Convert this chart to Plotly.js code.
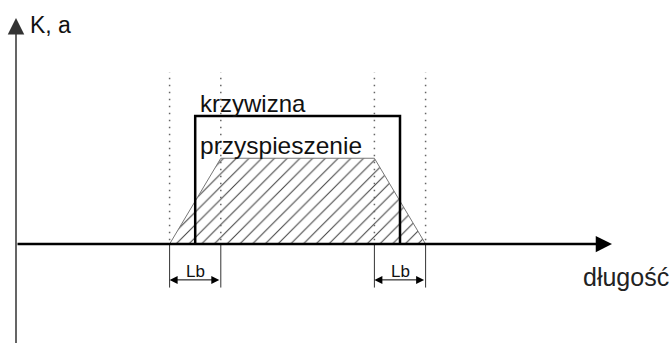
<!DOCTYPE html>
<html>
<head>
<meta charset="utf-8">
<script src="https://cdn.plot.ly/plotly-3.0.1.min.js"></script>
<style>
  body { margin: 0; background: #fff; }
  #chart { width: 672px; height: 343px; }
</style>
</head>
<body>
<div id="chart"></div>
<script>
// length along the track, in units of Lb
const curvatureX = [3.5, 3.5, 7.5, 7.5];
const curvatureY = [0, 1, 1, 0];
const accelX = [3, 4, 7, 8];
const accelY = [0, 0.67, 0.67, 0];
const guideX = [3, 4, 7, 8];
const lbSpans = [[3, 4], [7, 8]];
const lbLabel = 'Lb';
const curvatureLabel = 'krzywizna';
const accelLabel = 'przyspieszenie';
const yAxisLabel = 'K, a';
const xAxisLabel = 'długość';

const font = 'Liberation Sans, Arial, sans-serif';

const data = [
    {
        x: accelX, y: accelY,
        type: 'scatter', mode: 'lines',
        fill: 'toself',
        fillcolor: 'rgba(255,255,255,0)',
        fillpattern: { shape: '/', fgcolor: '#444', bgcolor: 'rgba(255,255,255,0)', size: 9, solidity: 0.12 },
        line: { color: '#777', width: 1 },
        hoverinfo: 'skip'
    },
    {
        x: curvatureX, y: curvatureY,
        type: 'scatter', mode: 'lines',
        line: { color: '#000', width: 2.5 },
        hoverinfo: 'skip'
    }
];

const shapes = [];
guideX.forEach(x => {
    shapes.push({
        type: 'line', xref: 'x', yref: 'y',
        x0: x, x1: x, y0: 0.03, y1: 1.344,
        line: { color: '#666', width: 1.5, dash: '1.5px,5.5px' }
    });
    shapes.push({
        type: 'line', xref: 'x', yref: 'y',
        x0: x, x1: x, y0: -0.005, y1: -0.34,
        line: { color: '#333', width: 1 }
    });
});

const annotations = [
    // horizontal axis
    { x: 11.64, y: 0, ax: 0, ay: 0, axref: 'x', ayref: 'y', text: '', showarrow: true,
      arrowhead: 2, arrowsize: 1.3, arrowwidth: 2.5, arrowcolor: '#000' },
    // vertical axis
    { x: 0, y: 1.766, ax: 0, ay: -0.8, axref: 'x', ayref: 'y', text: '', showarrow: true,
      arrowhead: 2, arrowsize: 2.2, arrowwidth: 1.5, arrowcolor: '#333' },
    { x: 0.24, y: 1.71, text: yAxisLabel, showarrow: false, xanchor: 'left', yanchor: 'middle',
      font: { family: font, size: 23, color: '#111' } },
    { x: 11.03, y: -0.255, text: xAxisLabel, showarrow: false, xanchor: 'left', yanchor: 'middle',
      font: { family: font, size: 25, color: '#222' } },
    { x: 3.55, y: 1.1, text: curvatureLabel, showarrow: false, xanchor: 'left', yanchor: 'middle',
      font: { family: font, size: 24, color: '#111' } },
    { x: 3.55, y: 0.77, text: accelLabel, showarrow: false, xanchor: 'left', yanchor: 'middle',
      font: { family: font, size: 24.5, color: '#111' } }
];

lbSpans.forEach(s => {
    annotations.push({
        x: s[0], y: -0.28, ax: s[1], ay: -0.28, axref: 'x', ayref: 'y', text: '', showarrow: true,
        arrowside: 'end+start', arrowhead: 2, startarrowhead: 2, arrowsize: 1.6, startarrowsize: 1.6,
        arrowwidth: 1, arrowcolor: '#000'
    });
    annotations.push({
        x: (s[0] + s[1]) / 2, y: -0.215, text: lbLabel, showarrow: false,
        xanchor: 'center', yanchor: 'middle',
        font: { family: font, size: 17, color: '#111' }
    });
});

const layout = {
    width: 672, height: 343,
    margin: { l: 0, r: 0, t: 0, b: 0 },
    paper_bgcolor: '#fff', plot_bgcolor: '#fff',
    showlegend: false,
    xaxis: { range: [-0.3125, 12.8125], visible: false, fixedrange: true },
    yaxis: { range: [-0.773, 1.906], visible: false, fixedrange: true },
    shapes: shapes,
    annotations: annotations
};

Plotly.newPlot('chart', data, layout, { staticPlot: true });
</script>
</body>
</html>
